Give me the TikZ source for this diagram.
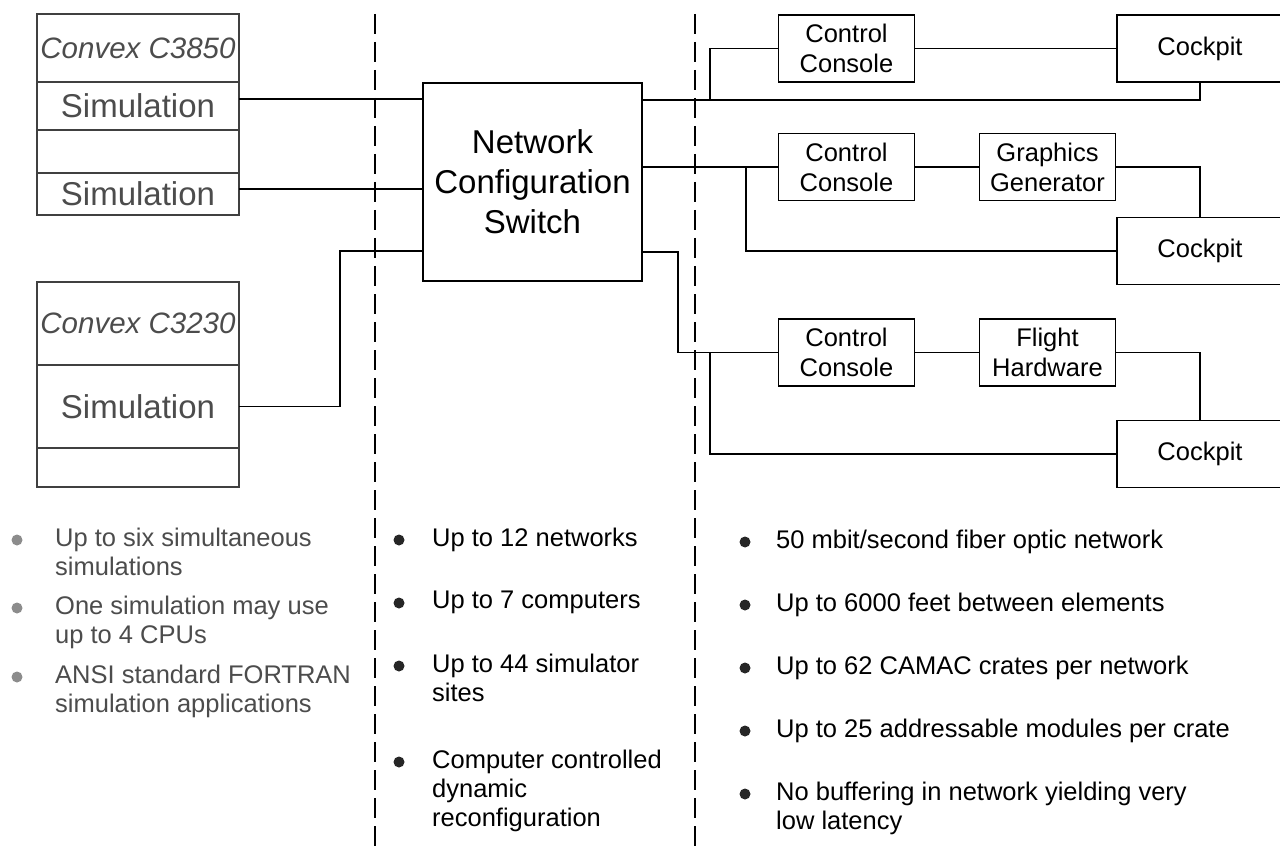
\documentclass[tikz,border=0pt]{standalone}
\usepackage{fontspec}
\setmainfont{Liberation Sans}
\usetikzlibrary{positioning}

\tikzset{
  unitbox/.style={draw, line width=1.6pt, inner sep=0pt, outer sep=0pt, align=center},
  cpurow/.style={draw=black!75, line width=1.5pt, inner sep=0pt, outer sep=0pt,
    minimum width=202pt, text=black!70, font=\fontsize{33}{40}\selectfont},
  smallbox/.style={unitbox, minimum width=136pt, minimum height=67pt,
    font=\fontsize{25.5}{30}\selectfont},
  cockpitbox/.style={unitbox, minimum width=166pt, minimum height=67pt,
    font=\fontsize{25.5}{30}\selectfont},
  wire/.style={line width=1.4pt},
  divider/.style={line width=1.3pt, dash pattern=on 20pt off 8pt},
  bulletdot/.style={circle, fill=#1, inner sep=0pt, minimum size=11pt},
  itemtext/.style={anchor=north west, align=left, inner sep=0pt,
    font=\fontsize{25.5}{29}\selectfont}
}

\begin{document}
\begin{tikzpicture}[x=1pt,y=-1pt]
  \useasboundingbox (0,0) rectangle (1280,853);

  % Convex C3850
  \node[cpurow, minimum height=68pt, font=\fontsize{29.5}{35}\selectfont\itshape] (c38title) at (138,48) {Convex C3850};
  \node[cpurow, minimum height=48pt, below=0pt of c38title] (c38simA) {Simulation};
  \node[cpurow, minimum height=43pt, below=0pt of c38simA] (c38gap) {};
  \node[cpurow, minimum height=42pt, below=0pt of c38gap] (c38simB) {Simulation};

  % Convex C3230
  \node[cpurow, minimum height=83pt, font=\fontsize{29.5}{35}\selectfont\itshape] (c32title) at (138,323.5) {Convex C3230};
  \node[cpurow, minimum height=83pt, below=0pt of c32title] (c32sim) {Simulation};
  \node[cpurow, minimum height=39pt, below=0pt of c32sim] (c32gap) {};

  % Switch
  \node[unitbox, minimum width=219pt, minimum height=198pt, font=\fontsize{33}{40}\selectfont] (switch) at (532.5,182) {Network\\Configuration\\Switch};
  \coordinate (inA) at (423,99);
  \coordinate (inB) at (423,189);
  \coordinate (inC) at (423,251);
  \coordinate (outA) at (642,100);
  \coordinate (outB) at (642,167);
  \coordinate (outC) at (642,252);

  % Sites
  \node[smallbox] (consoleA) at (846.5,48.5) {Control\\Console};
  \node[cockpitbox] (cockpitA) at (1200,48.5) {Cockpit};
  \node[smallbox] (consoleB) at (846.5,167) {Control\\Console};
  \node[smallbox] (graphics) at (1047.5,167) {Graphics\\Generator};
  \node[cockpitbox] (cockpitB) at (1200,251) {Cockpit};
  \node[smallbox] (consoleC) at (846.5,352.5) {Control\\Console};
  \node[smallbox] (flight) at (1047.5,352.5) {Flight\\Hardware};
  \node[cockpitbox] (cockpitC) at (1200,454) {Cockpit};

  % Computers to switch
  \coordinate (jogC) at (340,251);
  \draw[wire] (c38simA.east |- inA) -- (inA);
  \draw[wire] (c38simB.east |- inB) -- (inB);
  \draw[wire] (c32sim.east) -| (jogC) -- (inC);

  % Network 1
  \coordinate (tapA) at (710,100);
  \draw[wire] (outA) -| (cockpitA.south);
  \draw[wire] (tapA) |- (consoleA.west);
  \draw[wire] (consoleA) -- (cockpitA);

  % Network 2
  \coordinate (tapB) at (746,167);
  \draw[wire] (outB) -- (consoleB.west);
  \draw[wire] (tapB) |- (cockpitB.west);
  \draw[wire] (consoleB) -- (graphics);
  \draw[wire] (graphics.east) -| (cockpitB.north);

  % Network 3
  \coordinate (bendC) at (678,252);
  \coordinate (tapC) at (710,352.5);
  \draw[wire] (outC) -- (bendC) |- (consoleC.west);
  \draw[wire] (tapC) |- (cockpitC.west);
  \draw[wire] (consoleC) -- (flight);
  \draw[wire] (flight.east) -| (cockpitC.north);

  % Dividers
  \coordinate (divAtop) at (375,14);
  \coordinate (divAbot) at (375,853);
  \coordinate (divBtop) at (695,14);
  \coordinate (divBbot) at (695,853);
  \draw[divider] (divAtop) -- (divAbot);
  \draw[divider] (divBtop) -- (divBbot);

  % Computer notes
  \node[bulletdot=black!45] (dotA1) at (17,540) {};
  \node[itemtext, text=black!70] (noteA1) at (55,528) {Up to six simultaneous\\simulations};
  \node[bulletdot=black!45] (dotA2) at (17,608) {};
  \node[itemtext, text=black!70] (noteA2) at (55,596) {One simulation may use\\up to 4 CPUs};
  \node[bulletdot=black!45] (dotA3) at (17,677) {};
  \node[itemtext, text=black!70] (noteA3) at (55,665) {ANSI standard FORTRAN\\simulation applications};

  % Switch notes
  \node[bulletdot=black!85] (dotB1) at (399,540) {};
  \node[itemtext] (noteB1) at (432,528) {Up to 12 networks};
  \node[bulletdot=black!85] (dotB2) at (399,603) {};
  \node[itemtext] (noteB2) at (432,591) {Up to 7 computers};
  \node[bulletdot=black!85] (dotB3) at (399,666) {};
  \node[itemtext] (noteB3) at (432,654) {Up to 44 simulator\\sites};
  \node[bulletdot=black!85] (dotB4) at (399,762) {};
  \node[itemtext] (noteB4) at (432,750) {Computer controlled\\dynamic\\reconfiguration};

  % Network notes
  \node[bulletdot=black!85] (dotC1) at (745,542) {};
  \node[itemtext] (noteC1) at (776,530) {50 mbit/second fiber optic network};
  \node[bulletdot=black!85] (dotC2) at (745,605) {};
  \node[itemtext] (noteC2) at (776,593) {Up to 6000 feet between elements};
  \node[bulletdot=black!85] (dotC3) at (745,668) {};
  \node[itemtext] (noteC3) at (776,656) {Up to 62 CAMAC crates per network};
  \node[bulletdot=black!85] (dotC4) at (745,731) {};
  \node[itemtext] (noteC4) at (776,719) {Up to 25 addressable modules per crate};
  \node[bulletdot=black!85] (dotC5) at (745,794) {};
  \node[itemtext] (noteC5) at (776,782) {No buffering in network yielding very\\low latency};
\end{tikzpicture}
\end{document}
